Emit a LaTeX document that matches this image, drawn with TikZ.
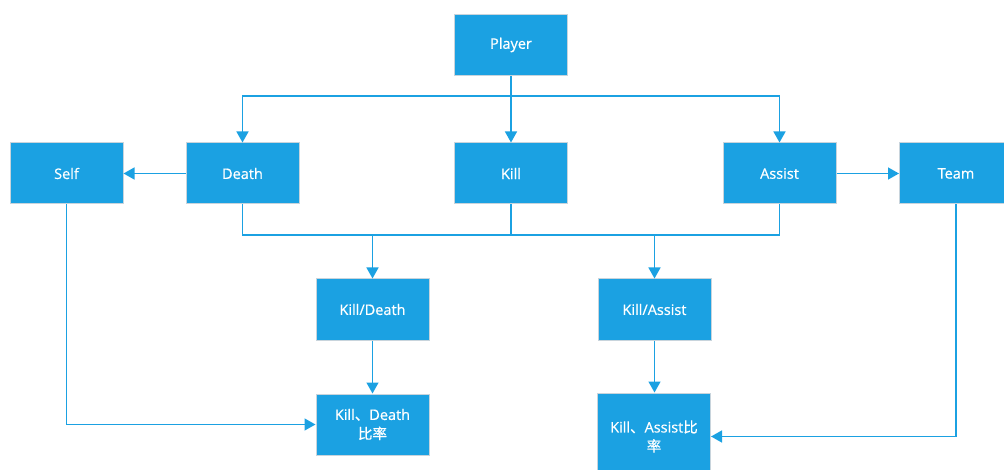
\documentclass[tikz,border=0pt]{standalone}
\usepackage{fontspec}
\setmainfont{Open Sans}
\newfontfamily\boxfont{Open Sans}[FakeBold=0.6]
\newfontfamily\cjk{Noto Sans CJK SC}[FakeBold=0.6]
\usetikzlibrary{arrows.meta}
\definecolor{metro}{HTML}{1BA1E2}
\definecolor{edge}{HTML}{C8D4DC}
\begin{document}
\begin{tikzpicture}[x=1pt,y=-1pt,
  box/.style={draw=edge,line width=1pt,fill=metro,text=white,minimum width=113pt,minimum height=61pt,inner sep=0pt,align=center,font=\boxfont\fontsize{14.5}{19}\selectfont},
  lbl/.style={yshift=-1.5pt},
  conn/.style={draw=metro,line width=1.4pt},
  arr/.style={conn,-{Triangle[length=11pt,width=12pt]}}]
\useasboundingbox (0,0) rectangle (1004,470);
\node[box] (player) at (511,45) {\raisebox{-1.5pt}{Player}};
\node[box] (self) at (66.5,173.5) {\raisebox{-1.5pt}{Self}};
\node[box] (death) at (242.5,173.5) {\raisebox{-1.5pt}{Death}};
\node[box] (kill) at (511,173.5) {\raisebox{-1.5pt}{Kill}};
\node[box] (assist) at (779.5,173.5) {\raisebox{-1.5pt}{Assist}};
\node[box] (team) at (956,173.5) {\raisebox{-1.5pt}{Team}};
\node[box] (kd) at (372.5,309.5) {\raisebox{-1.5pt}{Kill/Death}};
\node[box] (ka) at (654.5,309.5) {\raisebox{-1.5pt}{Kill/Assist}};
\node[box] (kdr) at (372.5,424.5) {Kill{\cjk 、}Death\\{\cjk 比率}};
\node[box,minimum height=87pt] (kar) at (654,436.5) {Kill{\cjk 、}Assist{\cjk 比}\\{\cjk 率}};
\coordinate (top) at (511,96);
\coordinate (mid) at (511,235);
% Player to row
\draw[conn] (player.south) -- (top);
\draw[arr] (top) -| (death.north);
\draw[arr] (top) -- (kill.north);
\draw[arr] (top) -| (assist.north);
% side arrows
\draw[arr] (death.west) -- (self.east);
\draw[arr] (assist.east) -- (team.west);
% row to ratios
\draw[conn] (death.south) |- (mid);
\draw[conn] (assist.south) |- (mid);
\draw[conn] (kill.south) -- (mid);
\draw[arr] (kd.north |- mid) -- (kd.north);
\draw[arr] (ka.north |- mid) -- (ka.north);
\draw[arr] (kd.south) -- (kdr.north);
\draw[arr] (ka.south) -- (kar.north -| ka.south);
% long side connectors
\draw[arr] (self.south) |- (kdr.west);
\draw[arr] (team.south) |- (kar.east);
\end{tikzpicture}
\end{document}
